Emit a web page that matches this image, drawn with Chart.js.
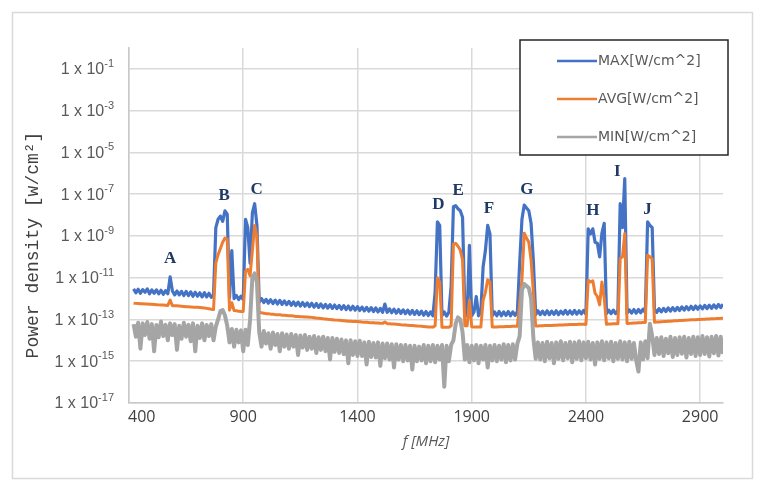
<!DOCTYPE html>
<html>
<head>
<meta charset="utf-8">
<script src="https://cdn.jsdelivr.net/npm/chart.js@4.4.1/dist/chart.umd.min.js"></script>
<style>
  html, body { margin: 0; padding: 0; background: #fff; }
  #wrap { width: 779px; height: 488px; }
</style>
</head>
<body>
<div id="wrap"><canvas id="spectrum" width="779" height="488"></canvas></div>
<script>
// sweep frequencies [MHz]
const freq = [
  420, 430, 440, 450, 460, 470, 480, 490, 500, 510,
  520, 530, 540, 550, 560, 570, 580, 590, 600, 610,
  620, 630, 640, 650, 660, 670, 680, 690, 700, 710,
  720, 730, 740, 750, 760, 770, 780, 790, 800, 810,
  820, 830, 840, 850, 860, 870, 880, 890, 900, 910,
  920, 930, 940, 950, 960, 970, 980, 990, 1000, 1010,
  1020, 1030, 1040, 1050, 1060, 1070, 1080, 1090, 1100, 1110,
  1120, 1130, 1140, 1150, 1160, 1170, 1180, 1190, 1200, 1210,
  1220, 1230, 1240, 1250, 1260, 1270, 1280, 1290, 1300, 1310,
  1320, 1330, 1340, 1350, 1360, 1370, 1380, 1390, 1400, 1410,
  1420, 1430, 1440, 1450, 1460, 1470, 1480, 1490, 1500, 1510,
  1520, 1530, 1540, 1550, 1560, 1570, 1580, 1590, 1600, 1610,
  1620, 1630, 1640, 1650, 1660, 1670, 1680, 1690, 1700, 1710,
  1720, 1730, 1740, 1750, 1760, 1770, 1780, 1790, 1800, 1810,
  1820, 1830, 1840, 1850, 1860, 1870, 1880, 1890, 1900, 1910,
  1920, 1930, 1940, 1950, 1960, 1970, 1980, 1990, 2000, 2010,
  2020, 2030, 2040, 2050, 2060, 2070, 2080, 2090, 2100, 2110,
  2120, 2130, 2140, 2150, 2160, 2170, 2180, 2190, 2200, 2210,
  2220, 2230, 2240, 2250, 2260, 2270, 2280, 2290, 2300, 2310,
  2320, 2330, 2340, 2350, 2360, 2370, 2380, 2390, 2400, 2410,
  2420, 2430, 2440, 2450, 2460, 2470, 2480, 2490, 2500, 2510,
  2520, 2530, 2540, 2550, 2560, 2570, 2580, 2590, 2600, 2610,
  2620, 2630, 2640, 2650, 2660, 2670, 2680, 2690, 2700, 2710,
  2720, 2730, 2740, 2750, 2760, 2770, 2780, 2790, 2800, 2810,
  2820, 2830, 2840, 2850, 2860, 2870, 2880, 2890, 2900, 2910,
  2920, 2930, 2940, 2950, 2960, 2970, 2980, 2990, 3000
];

// MAX [W/cm^2]
const maxVals = [
  2.9e-12, 1.9e-12, 2.8e-12, 1.8e-12, 2.7e-12, 2.0e-12, 2.9e-12, 1.7e-12, 2.6e-12, 1.8e-12,
  2.6e-12, 1.7e-12, 2.5e-12, 1.6e-12, 2.4e-12, 1.7e-12, 1.1e-11, 2.3e-12, 1.5e-12, 2.3e-12,
  1.5e-12, 2.2e-12, 1.4e-12, 2.2e-12, 1.4e-12, 2.1e-12, 1.3e-12, 2.0e-12, 1.3e-12, 1.9e-12,
  1.2e-12, 1.9e-12, 1.2e-12, 1.8e-12, 1.15e-12, 1.5e-12, 2.5e-9, 6.3e-9, 8.9e-9, 5.0e-9,
  1.6e-8, 1.1e-8, 1.1e-12, 2.0e-10, 1.0e-12, 1.4e-12, 9.0e-13, 1.3e-12, 8.8e-13, 6.3e-9,
  2.5e-9, 5.0e-11, 1.26e-8, 3.5e-8, 3.2e-9, 6.8e-13, 1.0e-12, 6.5e-13, 9.2e-13, 6.0e-13,
  8.8e-13, 5.8e-13, 8.5e-13, 5.5e-13, 8.2e-13, 5.3e-13, 7.8e-13, 5.1e-13, 7.4e-13, 4.8e-13,
  7.0e-13, 4.6e-13, 6.8e-13, 4.4e-13, 6.5e-13, 4.3e-13, 6.2e-13, 4.1e-13, 6.0e-13, 3.9e-13,
  5.8e-13, 3.8e-13, 5.5e-13, 3.6e-13, 5.3e-13, 3.5e-13, 5.1e-13, 3.4e-13, 4.9e-13, 3.3e-13,
  4.7e-13, 3.1e-13, 4.6e-13, 3.0e-13, 4.4e-13, 2.9e-13, 4.3e-13, 2.8e-13, 4.1e-13, 2.7e-13,
  3.9e-13, 2.6e-13, 3.8e-13, 2.5e-13, 3.7e-13, 2.4e-13, 3.6e-13, 2.3e-13, 3.4e-13, 2.2e-13,
  5.5e-13, 2.2e-13, 3.2e-13, 2.1e-13, 3.1e-13, 2.0e-13, 3.0e-13, 1.95e-13, 2.9e-13, 1.9e-13,
  2.8e-13, 1.8e-13, 2.7e-13, 1.75e-13, 2.6e-13, 1.7e-13, 2.5e-13, 1.6e-13, 2.4e-13, 1.55e-13,
  2.3e-13, 1.5e-13, 2.0e-12, 4.7e-9, 3.2e-9, 1.5e-13, 2.3e-13, 1.45e-13, 2.2e-13, 4.0e-12,
  2.5e-8, 2.8e-8, 2.0e-8, 1.6e-8, 7.9e-9, 2.5e-13, 1.5e-13, 3.5e-10, 1.5e-13, 2.3e-13,
  1.26e-12, 1.5e-13, 2.3e-13, 3.3e-11, 2.0e-10, 3.2e-9, 1.26e-9, 1.5e-13, 2.3e-13, 1.5e-13,
  2.4e-13, 1.5e-13, 2.3e-13, 1.55e-13, 2.4e-13, 1.5e-13, 2.3e-13, 1.55e-13, 2.4e-13, 5.0e-11,
  6.3e-9, 3.0e-8, 2.2e-8, 1.6e-8, 4.0e-9, 6.3e-11, 1.7e-13, 2.6e-13, 1.7e-13, 2.5e-13,
  1.7e-13, 2.6e-13, 1.7e-13, 2.5e-13, 1.75e-13, 2.6e-13, 1.7e-13, 2.5e-13, 1.8e-13, 2.7e-13,
  1.8e-13, 2.6e-13, 1.8e-13, 2.7e-13, 1.8e-13, 2.6e-13, 1.85e-13, 2.7e-13, 1.8e-13, 2.2e-9,
  1.26e-9, 2.2e-9, 5.0e-10, 4.5e-10, 1.0e-10, 1.35e-9, 4.0e-9, 1.9e-13, 2.8e-13, 1.9e-13,
  2.8e-13, 1.9e-13, 2.7e-13, 3.5e-8, 2.5e-9, 5.6e-7, 2.0e-13, 2.9e-13, 2.0e-13, 3.0e-13,
  2.0e-13, 3.0e-13, 2.1e-13, 3.1e-13, 2.1e-13, 4.7e-9, 3.2e-9, 2.5e-9, 3.2e-13, 2.2e-13,
  3.3e-13, 2.3e-13, 3.4e-13, 2.4e-13, 3.6e-13, 2.5e-13, 3.7e-13, 2.6e-13, 3.8e-13, 2.7e-13,
  4.0e-13, 2.8e-13, 4.1e-13, 2.9e-13, 4.3e-13, 3.0e-13, 4.4e-13, 3.1e-13, 4.5e-13, 3.2e-13,
  4.7e-13, 3.3e-13, 4.8e-13, 3.4e-13, 5.0e-13, 3.5e-13, 5.2e-13, 3.7e-13, 5.4e-13
];

// AVG [W/cm^2]
const avgVals = [
  6.0e-13, 5.9e-13, 5.8e-13, 5.7e-13, 5.6e-13, 5.5e-13, 5.5e-13, 5.4e-13, 5.3e-13, 5.2e-13,
  5.1e-13, 5.0e-13, 4.9e-13, 4.9e-13, 4.8e-13, 4.7e-13, 8.5e-13, 4.6e-13, 4.6e-13, 4.5e-13,
  4.4e-13, 4.3e-13, 4.2e-13, 4.1e-13, 4.1e-13, 4.0e-13, 3.9e-13, 3.9e-13, 3.8e-13, 3.7e-13,
  3.6e-13, 3.5e-13, 3.4e-13, 3.3e-13, 3.1e-13, 3.0e-13, 5.0e-11, 1.26e-10, 2.5e-10, 5.0e-10,
  7.9e-10, 7.1e-10, 2.8e-13, 6.3e-13, 2.7e-13, 2.6e-13, 2.5e-13, 2.4e-13, 2.4e-13, 2.0e-11,
  2.5e-11, 1.26e-11, 2.0e-10, 3.2e-9, 8.9e-10, 2.1e-13, 2.1e-13, 2.0e-13, 1.9e-13, 1.9e-13,
  1.8e-13, 1.8e-13, 1.7e-13, 1.7e-13, 1.7e-13, 1.6e-13, 1.6e-13, 1.55e-13, 1.5e-13, 1.5e-13,
  1.45e-13, 1.4e-13, 1.4e-13, 1.35e-13, 1.35e-13, 1.3e-13, 1.3e-13, 1.28e-13, 1.26e-13, 1.22e-13,
  1.18e-13, 1.15e-13, 1.12e-13, 1.08e-13, 1.05e-13, 1.02e-13, 1.0e-13, 9.8e-14, 9.5e-14, 9.3e-14,
  9.1e-14, 8.9e-14, 8.7e-14, 8.5e-14, 8.3e-14, 8.2e-14, 8.1e-14, 8.0e-14, 7.9e-14, 7.7e-14,
  7.5e-14, 7.4e-14, 7.3e-14, 7.1e-14, 7.0e-14, 6.9e-14, 6.8e-14, 6.7e-14, 6.6e-14, 6.5e-14,
  7.6e-14, 6.3e-14, 6.2e-14, 6.1e-14, 6.0e-14, 5.9e-14, 5.8e-14, 5.6e-14, 5.5e-14, 5.4e-14,
  5.3e-14, 5.2e-14, 5.1e-14, 5.0e-14, 4.9e-14, 4.8e-14, 4.7e-14, 4.6e-14, 4.5e-14, 4.4e-14,
  4.4e-14, 4.3e-14, 5.0e-14, 1.0e-11, 6.3e-12, 4.2e-14, 4.2e-14, 4.2e-14, 4.2e-14, 5.0e-14,
  4.0e-10, 4.4e-10, 3.2e-10, 2.1e-10, 6.9e-11, 5.0e-14, 5.0e-14, 8.3e-13, 4.5e-14, 4.3e-14,
  4.3e-14, 4.3e-14, 4.3e-14, 8.3e-13, 2.0e-12, 7.9e-12, 6.3e-12, 4.4e-14, 4.4e-14, 4.4e-14,
  4.5e-14, 4.5e-14, 4.5e-14, 4.6e-14, 4.6e-14, 4.6e-14, 4.7e-14, 4.7e-14, 4.7e-14, 6.3e-13,
  7.9e-12, 1.35e-9, 7.9e-10, 5.0e-10, 6.9e-11, 2.0e-12, 4.9e-14, 4.9e-14, 5.0e-14, 5.0e-14,
  5.1e-14, 5.1e-14, 5.2e-14, 5.2e-14, 5.3e-14, 5.3e-14, 5.4e-14, 5.5e-14, 5.5e-14, 5.6e-14,
  5.6e-14, 5.7e-14, 5.7e-14, 5.8e-14, 5.8e-14, 5.9e-14, 5.9e-14, 5.9e-14, 5.8e-14, 7.6e-12,
  6.3e-12, 7.1e-12, 1.8e-12, 1.26e-12, 5.0e-13, 6.3e-12, 1.1e-12, 5.9e-14, 6.0e-14, 6.1e-14,
  6.2e-14, 6.2e-14, 6.3e-14, 8.3e-11, 1.0e-10, 1.3e-9, 6.5e-14, 6.5e-14, 6.6e-14, 6.7e-14,
  6.8e-14, 6.9e-14, 7.0e-14, 7.1e-14, 7.2e-14, 1.2e-10, 1.0e-10, 7.9e-11, 7.4e-14, 7.5e-14,
  7.6e-14, 7.8e-14, 7.9e-14, 8.1e-14, 8.2e-14, 8.3e-14, 8.5e-14, 8.6e-14, 8.7e-14, 8.9e-14,
  9.0e-14, 9.2e-14, 9.3e-14, 9.5e-14, 9.6e-14, 9.7e-14, 9.8e-14, 9.9e-14, 1.0e-13, 1.02e-13,
  1.03e-13, 1.05e-13, 1.06e-13, 1.08e-13, 1.09e-13, 1.1e-13, 1.12e-13, 1.13e-13, 1.15e-13
];

// MIN [W/cm^2]
const minVals = [
  6.0e-14, 1.5e-14, 7.0e-14, 4.0e-15, 6.5e-14, 1.8e-14, 7.5e-14, 1.2e-14, 6.0e-14, 3.0e-15,
  5.5e-14, 1.4e-14, 8.0e-14, 1.6e-14, 5.5e-14, 1.0e-14, 6.5e-14, 1.8e-14, 6.0e-14, 3.5e-15,
  5.0e-14, 1.2e-14, 7.0e-14, 1.5e-14, 5.5e-14, 9.0e-15, 6.5e-14, 3.0e-15, 5.0e-14, 1.3e-14,
  6.5e-14, 1.0e-14, 5.5e-14, 1.6e-14, 6.0e-14, 1.0e-14, 4.5e-14, 1.0e-13, 2.5e-13, 2.8e-13,
  1.6e-13, 5.0e-14, 8.0e-15, 3.5e-14, 5.0e-15, 3.2e-14, 8.0e-15, 3.0e-14, 3.0e-15, 3.2e-14,
  6.0e-15, 1.0e-13, 1.0e-11, 1.6e-11, 6.3e-12, 2.5e-14, 5.0e-15, 2.8e-14, 7.0e-15, 2.2e-14,
  4.0e-15, 2.4e-14, 6.0e-15, 2.0e-14, 3.0e-15, 2.2e-14, 5.0e-15, 1.9e-14, 4.0e-15, 2.0e-14,
  5.0e-15, 1.8e-14, 2.0e-15, 1.7e-14, 4.5e-15, 1.8e-14, 3.5e-15, 1.5e-14, 4.0e-15, 1.6e-14,
  2.5e-15, 1.4e-14, 3.5e-15, 1.5e-14, 3.0e-15, 1.3e-14, 1.2e-15, 1.3e-14, 2.8e-15, 1.2e-14,
  2.5e-15, 1.1e-14, 2.2e-15, 1.0e-14, 8.0e-16, 1.0e-14, 2.0e-15, 9.0e-15, 1.8e-15, 9.5e-15,
  1.8e-15, 8.0e-15, 7.0e-16, 8.5e-15, 1.6e-15, 7.5e-15, 1.5e-15, 8.0e-15, 6.0e-16, 7.0e-15,
  1.4e-15, 7.0e-15, 1.2e-15, 6.5e-15, 5.0e-16, 6.5e-15, 1.2e-15, 6.0e-15, 1.0e-15, 6.0e-15,
  1.1e-15, 5.5e-15, 4.0e-16, 5.5e-15, 1.0e-15, 5.0e-15, 1.1e-15, 6.0e-15, 8.0e-16, 5.5e-15,
  1.0e-15, 6.0e-15, 9.0e-16, 5.5e-15, 1.2e-15, 6.0e-15, 6.0e-17, 5.5e-15, 1.0e-15, 6.0e-15,
  1.0e-14, 6.3e-14, 1.26e-13, 1.0e-13, 2.5e-14, 1.2e-15, 6.0e-15, 9.0e-16, 5.5e-15, 1.1e-15,
  6.0e-15, 8.0e-16, 5.5e-15, 1.2e-15, 6.0e-15, 5.0e-16, 5.5e-15, 1.1e-15, 6.0e-15, 1.0e-15,
  5.5e-15, 1.2e-15, 6.5e-15, 9.0e-16, 6.0e-15, 1.1e-15, 6.5e-15, 1.2e-15, 7.0e-15, 1.6e-14,
  2.5e-12, 5.0e-12, 4.0e-12, 3.2e-12, 1.0e-12, 1.26e-14, 1.3e-15, 8.0e-15, 1.2e-15, 7.5e-15,
  1.0e-15, 8.5e-15, 1.4e-15, 7.5e-15, 8.0e-16, 8.0e-15, 1.3e-15, 9.0e-15, 1.1e-15, 7.5e-15,
  1.4e-15, 8.5e-15, 9.0e-16, 8.0e-15, 1.3e-15, 9.0e-15, 1.1e-15, 8.0e-15, 1.4e-15, 8.5e-15,
  1.2e-15, 7.5e-15, 7.0e-16, 8.0e-15, 1.3e-15, 9.0e-15, 1.1e-15, 8.0e-15, 1.4e-15, 8.5e-15,
  1.0e-15, 7.5e-15, 1.3e-15, 9.0e-15, 1.2e-15, 8.0e-15, 1.0e-15, 8.5e-15, 1.3e-15, 7.5e-15,
  1.1e-15, 3.2e-16, 8.0e-15, 1.2e-15, 9.0e-15, 1.4e-15, 6.3e-14, 1.6e-14, 2.0e-15, 1.3e-14,
  2.2e-15, 1.4e-14, 1.8e-15, 1.2e-14, 2.4e-15, 1.5e-14, 1.6e-15, 1.3e-14, 2.0e-15, 1.4e-14,
  2.3e-15, 1.5e-14, 1.5e-15, 1.3e-14, 2.2e-15, 1.5e-14, 1.8e-15, 1.4e-14, 2.0e-15, 1.6e-14,
  2.2e-15, 1.4e-14, 1.7e-15, 1.5e-14, 2.4e-15, 1.6e-14, 1.9e-15, 1.5e-14, 2.2e-15
];

// axis ticks
const xTicks = [400, 900, 1400, 1900, 2400, 2900];
const yTickExps = [-17, -15, -13, -11, -9, -7, -5, -3, -1];

// band labels, placed in data space (MHz, W/cm^2)
const peakNames = ['A', 'B', 'C', 'D', 'E', 'F', 'G', 'H', 'I', 'J'];
const peakFreq  = [580, 817, 959, 1754, 1841, 1976, 2141, 2430, 2537, 2669];
const peakLevel = [8.5e-11, 9e-8, 1.7e-7, 3e-8, 1.55e-7, 2e-8, 1.65e-7, 1.7e-8, 1.15e-6, 1.9e-8];

function toPoints(vals) {
  return vals.map((v, i) => ({ x: freq[i], y: v }));
}

const extras = {
  id: 'extras',
  beforeDraw(chart) {
    const ctx = chart.ctx;
    ctx.save();
    ctx.fillStyle = '#fff';
    ctx.fillRect(0, 0, chart.width, chart.height);
    ctx.strokeStyle = '#d9d9d9';
    ctx.lineWidth = 1.5;
    ctx.strokeRect(12.5, 12.5, 740, 466);
    ctx.restore();
  },
  afterDraw(chart) {
    const ctx = chart.ctx;
    const xs = chart.scales.x, ys = chart.scales.y;
    ctx.save();

    // y tick labels with raised exponent
    ctx.fillStyle = '#595959';
    ctx.textAlign = 'left';
    ctx.textBaseline = 'middle';
    yTickExps.forEach(e => {
      const py = ys.getPixelForValue(Math.pow(10, e));
      ctx.font = '16px "Liberation Sans"';
      const base = '1 x 10';
      const wb = ctx.measureText(base).width;
      ctx.font = '11px "Liberation Sans"';
      const ex = String(e);
      const we = ctx.measureText(ex).width;
      const x0 = 114 - wb - we;
      ctx.font = '16px "Liberation Sans"';
      ctx.fillText(base, x0, py + 1);
      ctx.font = '11px "Liberation Sans"';
      ctx.fillText(ex, x0 + wb, py - 5);
    });

    // x tick labels (first one kept inside the plot, like the original)
    ctx.font = '16px "Open Sans"';
    ctx.fillStyle = '#404040';
    ctx.textBaseline = 'middle';
    xTicks.forEach(v => {
      const px = xs.getPixelForValue(v);
      const w = ctx.measureText(String(v)).width;
      ctx.fillText(String(v), Math.max(px - w / 2, chart.chartArea.left - 1), 417);
    });

    // y axis title
    ctx.save();
    ctx.translate(33, 245);
    ctx.rotate(-Math.PI / 2);
    ctx.font = '18px "Liberation Mono"';
    ctx.fillStyle = '#404040';
    ctx.textAlign = 'center';
    ctx.fillText('Power density [w/cm\u00B2]', 0, 0);
    ctx.restore();

    // band letters
    ctx.font = 'bold 17px "Liberation Serif"';
    ctx.fillStyle = '#1F3864';
    ctx.textAlign = 'center';
    ctx.textBaseline = 'middle';
    peakNames.forEach((n, i) => {
      ctx.fillText(n, xs.getPixelForValue(peakFreq[i]), ys.getPixelForValue(peakLevel[i]));
    });

    // legend box
    const bx = 520, by = 40, bw = 208, bh = 115;
    ctx.fillStyle = '#fff';
    ctx.fillRect(bx, by, bw, bh);
    ctx.strokeStyle = '#262626';
    ctx.lineWidth = 1.5;
    ctx.strokeRect(bx, by, bw, bh);
    ctx.font = '14px "DejaVu Sans"';
    ctx.textAlign = 'left';
    ctx.textBaseline = 'middle';
    chart.data.datasets.forEach((ds, i) => {
      const ly = 61 + i * 38;
      ctx.strokeStyle = ds.borderColor;
      ctx.lineWidth = 2.5;
      ctx.beginPath();
      ctx.moveTo(557, ly);
      ctx.lineTo(597, ly);
      ctx.stroke();
      ctx.fillStyle = '#595959';
      ctx.fillText(ds.label, 598, ly);
    });
    ctx.restore();
  }
};

new Chart(document.getElementById('spectrum'), {
  type: 'line',
  data: {
    datasets: [
      { label: 'MAX[W/cm^2]', data: toPoints(maxVals), borderColor: '#4472C4', borderWidth: 3.2, order: 3 },
      { label: 'AVG[W/cm^2]', data: toPoints(avgVals), borderColor: '#ED7D31', borderWidth: 3, order: 2 },
      { label: 'MIN[W/cm^2]', data: toPoints(minVals), borderColor: '#A5A5A5', borderWidth: 4, order: 1 }
    ]
  },
  options: {
    responsive: false,
    animation: false,
    devicePixelRatio: 1,
    layout: { padding: { top: 48, right: 56, left: 0, bottom: 0 } },
    elements: {
      point: { radius: 0 },
      line: { tension: 0, borderJoinStyle: 'round' }
    },
    plugins: {
      legend: { display: false },
      tooltip: { enabled: false }
    },
    scales: {
      x: {
        type: 'linear',
        min: 400,
        max: 3000,
        afterBuildTicks: s => { s.ticks = xTicks.map(v => ({ value: v })); },
        afterFit: s => { s.height = 85; },
        ticks: { display: false },
        grid: { color: '#d9d9d9', lineWidth: 1.5, drawTicks: false },
        border: { color: '#c8c8c8', width: 1.5 },
        title: {
          display: true,
          text: 'f [MHz]',
          color: '#595959',
          font: { family: 'Open Sans', size: 15, style: 'italic' },
          padding: { top: 0, bottom: 37 }
        }
      },
      y: {
        type: 'logarithmic',
        min: 1e-17,
        max: 1,
        afterBuildTicks: s => { s.ticks = yTickExps.map(e => ({ value: Math.pow(10, e) })); },
        afterFit: s => { s.width = 129; },
        ticks: { display: false },
        grid: { color: '#d9d9d9', lineWidth: 1.5, drawTicks: false },
        border: { color: '#c8c8c8', width: 1.5 }
      }
    }
  },
  plugins: [extras]
});
</script>
</body>
</html>
